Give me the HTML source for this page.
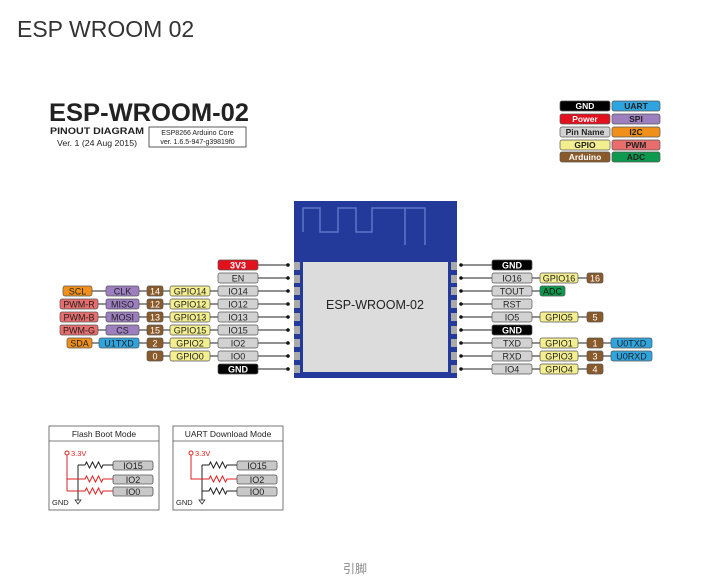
<!DOCTYPE html>
<html><head><meta charset="utf-8"><style>
html,body{margin:0;padding:0;background:#fff;width:714px;height:578px;overflow:hidden}
svg{position:absolute;left:0;top:0}
text{font-family:"Liberation Sans",sans-serif}
</style></head><body>
<svg width="714" height="578" viewBox="0 0 714 578" xmlns="http://www.w3.org/2000/svg">
<text x="17" y="37" font-size="23" fill="#333">ESP WROOM 02</text>
<text x="49" y="121" font-size="25" font-weight="bold" fill="#222" textLength="200" lengthAdjust="spacingAndGlyphs">ESP-WROOM-02</text>
<text x="50" y="134" font-size="9" font-weight="bold" fill="#222" textLength="94" lengthAdjust="spacingAndGlyphs">PINOUT DIAGRAM</text>
<text x="57" y="146" font-size="8" fill="#222" textLength="80" lengthAdjust="spacingAndGlyphs">Ver. 1 (24 Aug 2015)</text>
<rect x="149" y="127" width="97" height="20" fill="#fff" stroke="#333" stroke-width="0.8"/>
<text x="197.5" y="135" font-size="7" text-anchor="middle" fill="#222">ESP8266 Arduino Core</text>
<text x="197.5" y="144" font-size="7" text-anchor="middle" fill="#222">ver. 1.6.5-947-g39819f0</text>
<g font-size="8.5" font-weight="bold" text-anchor="middle" stroke-width="0.7">
<rect x="560" y="101" width="50" height="10" rx="2" fill="#000" stroke="#555"/><text x="585" y="109" fill="#fff">GND</text>
<rect x="612" y="101" width="48" height="10" rx="2" fill="#2fa5df" stroke="#555"/><text x="636" y="109" fill="#222">UART</text>
<rect x="560" y="114" width="50" height="10" rx="2" fill="#e3101e" stroke="#555"/><text x="585" y="122" fill="#fff">Power</text>
<rect x="612" y="114" width="48" height="10" rx="2" fill="#9d7fc0" stroke="#555"/><text x="636" y="122" fill="#222">SPI</text>
<rect x="560" y="127" width="50" height="10" rx="2" fill="#d2d2d2" stroke="#555"/><text x="585" y="135" fill="#222">Pin Name</text>
<rect x="612" y="127" width="48" height="10" rx="2" fill="#f0901a" stroke="#555"/><text x="636" y="135" fill="#222">I2C</text>
<rect x="560" y="140" width="50" height="10" rx="2" fill="#f3ee8f" stroke="#555"/><text x="585" y="148" fill="#222">GPIO</text>
<rect x="612" y="140" width="48" height="10" rx="2" fill="#e86d6d" stroke="#555"/><text x="636" y="148" fill="#222">PWM</text>
<rect x="560" y="152" width="50" height="10" rx="2" fill="#8b5a2b" stroke="#555"/><text x="585" y="160" fill="#fff">Arduino</text>
<rect x="612" y="152" width="48" height="10" rx="2" fill="#0e9a4e" stroke="#555"/><text x="636" y="160" fill="#222">ADC</text>
</g>
<!-- chip -->
<rect x="294" y="201" width="163" height="177" fill="#233a9a"/>
<path d="M303 232 V208 H320 V232 H338 V208 H356 V232 H372 V208 H425 V245 M405 208 V245" fill="none" stroke="#5a76c8" stroke-width="1.5"/>
<rect x="303" y="262" width="145" height="110" fill="#dcdcdc"/>
<text x="375" y="309" font-size="12.5" text-anchor="middle" fill="#222">ESP-WROOM-02</text>
<g fill="#aaa">
<rect x="294" y="262" width="6" height="8"/><rect x="294" y="275" width="6" height="8"/><rect x="294" y="287" width="6" height="8"/><rect x="294" y="300" width="6" height="8"/><rect x="294" y="313" width="6" height="8"/><rect x="294" y="326" width="6" height="8"/><rect x="294" y="339" width="6" height="8"/><rect x="294" y="352" width="6" height="8"/><rect x="294" y="365" width="6" height="8"/>
<rect x="451" y="262" width="6" height="8"/><rect x="451" y="275" width="6" height="8"/><rect x="451" y="287" width="6" height="8"/><rect x="451" y="300" width="6" height="8"/><rect x="451" y="313" width="6" height="8"/><rect x="451" y="326" width="6" height="8"/><rect x="451" y="339" width="6" height="8"/><rect x="451" y="352" width="6" height="8"/><rect x="451" y="365" width="6" height="8"/>
</g>
<!-- lines -->
<g stroke="#222" stroke-width="1">
<line x1="218" y1="265" x2="288" y2="265"/><line x1="218" y1="278" x2="288" y2="278"/>
<line x1="63" y1="291" x2="288" y2="291"/><line x1="60" y1="304" x2="288" y2="304"/>
<line x1="60" y1="317" x2="288" y2="317"/><line x1="60" y1="330" x2="288" y2="330"/>
<line x1="67" y1="343" x2="288" y2="343"/><line x1="147" y1="356" x2="288" y2="356"/>
<line x1="218" y1="369" x2="288" y2="369"/>
<line x1="461" y1="265" x2="532" y2="265"/><line x1="461" y1="278" x2="603" y2="278"/>
<line x1="461" y1="291" x2="565" y2="291"/><line x1="461" y1="304" x2="532" y2="304"/>
<line x1="461" y1="317" x2="603" y2="317"/><line x1="461" y1="330" x2="532" y2="330"/>
<line x1="461" y1="343" x2="652" y2="343"/><line x1="461" y1="356" x2="652" y2="356"/>
<line x1="461" y1="369" x2="603" y2="369"/>
</g>
<g fill="#111">
<circle cx="288" cy="265" r="1.8"/><circle cx="288" cy="278" r="1.8"/><circle cx="288" cy="291" r="1.8"/><circle cx="288" cy="304" r="1.8"/><circle cx="288" cy="317" r="1.8"/><circle cx="288" cy="330" r="1.8"/><circle cx="288" cy="343" r="1.8"/><circle cx="288" cy="356" r="1.8"/><circle cx="288" cy="369" r="1.8"/>
<circle cx="461" cy="265" r="1.8"/><circle cx="461" cy="278" r="1.8"/><circle cx="461" cy="291" r="1.8"/><circle cx="461" cy="304" r="1.8"/><circle cx="461" cy="317" r="1.8"/><circle cx="461" cy="330" r="1.8"/><circle cx="461" cy="343" r="1.8"/><circle cx="461" cy="356" r="1.8"/><circle cx="461" cy="369" r="1.8"/>
</g>
<g font-size="9" text-anchor="middle" stroke-width="0.7">
<rect x="218" y="260" width="40" height="10" rx="2" fill="#e3101e" stroke="#555"/><text x="238" y="268.5" fill="#fff" font-weight="bold">3V3</text>
<rect x="218" y="273" width="40" height="10" rx="2" fill="#d2d2d2" stroke="#555"/><text x="238" y="281.5" fill="#222">EN</text>
<rect x="218" y="286" width="40" height="10" rx="2" fill="#d2d2d2" stroke="#555"/><text x="238" y="294.5" fill="#222">IO14</text>
<rect x="218" y="299" width="40" height="10" rx="2" fill="#d2d2d2" stroke="#555"/><text x="238" y="307.5" fill="#222">IO12</text>
<rect x="218" y="312" width="40" height="10" rx="2" fill="#d2d2d2" stroke="#555"/><text x="238" y="320.5" fill="#222">IO13</text>
<rect x="218" y="325" width="40" height="10" rx="2" fill="#d2d2d2" stroke="#555"/><text x="238" y="333.5" fill="#222">IO15</text>
<rect x="218" y="338" width="40" height="10" rx="2" fill="#d2d2d2" stroke="#555"/><text x="238" y="346.5" fill="#222">IO2</text>
<rect x="218" y="351" width="40" height="10" rx="2" fill="#d2d2d2" stroke="#555"/><text x="238" y="359.5" fill="#222">IO0</text>
<rect x="218" y="364" width="40" height="10" rx="2" fill="#000" stroke="#555"/><text x="238" y="372.5" fill="#fff" font-weight="bold">GND</text>
<rect x="170" y="286" width="40" height="10" rx="2" fill="#f3ee8f" stroke="#555"/><text x="190" y="294.5" fill="#222">GPIO14</text>
<rect x="170" y="299" width="40" height="10" rx="2" fill="#f3ee8f" stroke="#555"/><text x="190" y="307.5" fill="#222">GPIO12</text>
<rect x="170" y="312" width="40" height="10" rx="2" fill="#f3ee8f" stroke="#555"/><text x="190" y="320.5" fill="#222">GPIO13</text>
<rect x="170" y="325" width="40" height="10" rx="2" fill="#f3ee8f" stroke="#555"/><text x="190" y="333.5" fill="#222">GPIO15</text>
<rect x="170" y="338" width="40" height="10" rx="2" fill="#f3ee8f" stroke="#555"/><text x="190" y="346.5" fill="#222">GPIO2</text>
<rect x="170" y="351" width="40" height="10" rx="2" fill="#f3ee8f" stroke="#555"/><text x="190" y="359.5" fill="#222">GPIO0</text>
<rect x="147" y="286" width="16" height="10" rx="2" fill="#8b5a2b" stroke="#555"/><text x="155" y="294.5" fill="#fff">14</text>
<rect x="147" y="299" width="16" height="10" rx="2" fill="#8b5a2b" stroke="#555"/><text x="155" y="307.5" fill="#fff">12</text>
<rect x="147" y="312" width="16" height="10" rx="2" fill="#8b5a2b" stroke="#555"/><text x="155" y="320.5" fill="#fff">13</text>
<rect x="147" y="325" width="16" height="10" rx="2" fill="#8b5a2b" stroke="#555"/><text x="155" y="333.5" fill="#fff">15</text>
<rect x="147" y="338" width="16" height="10" rx="2" fill="#8b5a2b" stroke="#555"/><text x="155" y="346.5" fill="#fff">2</text>
<rect x="147" y="351" width="16" height="10" rx="2" fill="#8b5a2b" stroke="#555"/><text x="155" y="359.5" fill="#fff">0</text>
<rect x="106" y="286" width="33" height="10" rx="2" fill="#9d7fc0" stroke="#555"/><text x="122.5" y="294.5" fill="#222">CLK</text>
<rect x="106" y="299" width="33" height="10" rx="2" fill="#9d7fc0" stroke="#555"/><text x="122.5" y="307.5" fill="#222">MISO</text>
<rect x="106" y="312" width="33" height="10" rx="2" fill="#9d7fc0" stroke="#555"/><text x="122.5" y="320.5" fill="#222">MOSI</text>
<rect x="106" y="325" width="33" height="10" rx="2" fill="#9d7fc0" stroke="#555"/><text x="122.5" y="333.5" fill="#222">CS</text>
<rect x="99" y="338" width="40" height="10" rx="2" fill="#2fa5df" stroke="#555"/><text x="119" y="346.5" fill="#222">U1TXD</text>
<rect x="63" y="286" width="29" height="10" rx="2" fill="#f0901a" stroke="#555"/><text x="77.5" y="294.5" fill="#222">SCL</text>
<rect x="60" y="299" width="38" height="10" rx="2" fill="#e86d6d" stroke="#555"/><text x="79" y="307.5" fill="#222">PWM-R</text>
<rect x="60" y="312" width="38" height="10" rx="2" fill="#e86d6d" stroke="#555"/><text x="79" y="320.5" fill="#222">PWM-B</text>
<rect x="60" y="325" width="38" height="10" rx="2" fill="#e86d6d" stroke="#555"/><text x="79" y="333.5" fill="#222">PWM-G</text>
<rect x="67" y="338" width="25" height="10" rx="2" fill="#f0901a" stroke="#555"/><text x="79.5" y="346.5" fill="#222">SDA</text>
<rect x="492" y="260" width="40" height="10" rx="2" fill="#000" stroke="#555"/><text x="512" y="268.5" fill="#fff" font-weight="bold">GND</text>
<rect x="492" y="273" width="40" height="10" rx="2" fill="#d2d2d2" stroke="#555"/><text x="512" y="281.5" fill="#222">IO16</text>
<rect x="492" y="286" width="40" height="10" rx="2" fill="#d2d2d2" stroke="#555"/><text x="512" y="294.5" fill="#222">TOUT</text>
<rect x="492" y="299" width="40" height="10" rx="2" fill="#d2d2d2" stroke="#555"/><text x="512" y="307.5" fill="#222">RST</text>
<rect x="492" y="312" width="40" height="10" rx="2" fill="#d2d2d2" stroke="#555"/><text x="512" y="320.5" fill="#222">IO5</text>
<rect x="492" y="325" width="40" height="10" rx="2" fill="#000" stroke="#555"/><text x="512" y="333.5" fill="#fff" font-weight="bold">GND</text>
<rect x="492" y="338" width="40" height="10" rx="2" fill="#d2d2d2" stroke="#555"/><text x="512" y="346.5" fill="#222">TXD</text>
<rect x="492" y="351" width="40" height="10" rx="2" fill="#d2d2d2" stroke="#555"/><text x="512" y="359.5" fill="#222">RXD</text>
<rect x="492" y="364" width="40" height="10" rx="2" fill="#d2d2d2" stroke="#555"/><text x="512" y="372.5" fill="#222">IO4</text>
<rect x="540" y="273" width="38" height="10" rx="2" fill="#f3ee8f" stroke="#555"/><text x="559" y="281.5" fill="#222">GPIO16</text>
<rect x="540" y="286" width="25" height="10" rx="2" fill="#0e9a4e" stroke="#555"/><text x="552.5" y="294.5" fill="#111">ADC</text>
<rect x="540" y="312" width="38" height="10" rx="2" fill="#f3ee8f" stroke="#555"/><text x="559" y="320.5" fill="#222">GPIO5</text>
<rect x="540" y="338" width="38" height="10" rx="2" fill="#f3ee8f" stroke="#555"/><text x="559" y="346.5" fill="#222">GPIO1</text>
<rect x="540" y="351" width="38" height="10" rx="2" fill="#f3ee8f" stroke="#555"/><text x="559" y="359.5" fill="#222">GPIO3</text>
<rect x="540" y="364" width="38" height="10" rx="2" fill="#f3ee8f" stroke="#555"/><text x="559" y="372.5" fill="#222">GPIO4</text>
<rect x="587" y="273" width="16" height="10" rx="2" fill="#8b5a2b" stroke="#555"/><text x="595" y="281.5" fill="#fff">16</text>
<rect x="587" y="312" width="16" height="10" rx="2" fill="#8b5a2b" stroke="#555"/><text x="595" y="320.5" fill="#fff">5</text>
<rect x="587" y="338" width="16" height="10" rx="2" fill="#8b5a2b" stroke="#555"/><text x="595" y="346.5" fill="#fff">1</text>
<rect x="587" y="351" width="16" height="10" rx="2" fill="#8b5a2b" stroke="#555"/><text x="595" y="359.5" fill="#fff">3</text>
<rect x="587" y="364" width="16" height="10" rx="2" fill="#8b5a2b" stroke="#555"/><text x="595" y="372.5" fill="#fff">4</text>
<rect x="611" y="338" width="41" height="10" rx="2" fill="#2fa5df" stroke="#555"/><text x="631.5" y="346.5" fill="#222">U0TXD</text>
<rect x="611" y="351" width="41" height="10" rx="2" fill="#2fa5df" stroke="#555"/><text x="631.5" y="359.5" fill="#222">U0RXD</text>
</g>
<g id="bm">
<rect x="49" y="426" width="110" height="84" fill="#fff" stroke="#555" stroke-width="0.8"/>
<line x1="49" y1="441" x2="159" y2="441" stroke="#555" stroke-width="0.8"/>
<circle cx="67" cy="453" r="2" fill="none" stroke="#d22" stroke-width="1"/>
<text x="71" y="456" font-size="7.5" fill="#d22">3.3V</text>
<line x1="78" y1="465" x2="78" y2="500" stroke="#222"/>
<path d="M75 500 h6 l-3 4z" fill="none" stroke="#222" stroke-width="0.7"/>
<text x="52" y="505" font-size="7.5" fill="#222">GND</text>
<g fill="#c8c8c8" stroke="#555" stroke-width="0.8">
<rect x="113" y="461" width="40" height="9" rx="2"/><rect x="113" y="475" width="40" height="9" rx="2"/><rect x="113" y="487" width="40" height="9" rx="2"/>
</g>
<g font-size="9" text-anchor="middle" fill="#222"><text x="133" y="469">IO15</text><text x="133" y="483">IO2</text><text x="133" y="495">IO0</text></g>
</g>
<g fill="none" stroke-width="1">
<path d="M78 465 H85 l1.5 -3 l3 6 l3 -6 l3 6 l3 -6 l3 6 l1.5 -3 H113" stroke="#222"/>
<path d="M67 455 V491 M67 479 H85 l1.5 -3 l3 6 l3 -6 l3 6 l3 -6 l3 6 l1.5 -3 H113 M67 491 H85 l1.5 -3 l3 6 l3 -6 l3 6 l3 -6 l3 6 l1.5 -3 H113" stroke="#d22"/>
</g>
<use href="#bm" x="124"/>
<rect x="174" y="427" width="108" height="13" fill="#fff"/>
<text x="104" y="437" font-size="8.5" text-anchor="middle" fill="#222">Flash Boot Mode</text>
<text x="228" y="437" font-size="8.5" text-anchor="middle" fill="#222">UART Download Mode</text>
<g fill="none" stroke-width="1">
<path d="M202 465 H209 l1.5 -3 l3 6 l3 -6 l3 6 l3 -6 l3 6 l1.5 -3 H237 M202 491 H209 l1.5 -3 l3 6 l3 -6 l3 6 l3 -6 l3 6 l1.5 -3 H237" stroke="#222"/>
<path d="M191 455 V479 H209 l1.5 -3 l3 6 l3 -6 l3 6 l3 -6 l3 6 l1.5 -3 H237" stroke="#d22"/>
</g>
<text x="355" y="573" font-size="12" text-anchor="middle" fill="#888" font-family="'Liberation Sans','Noto Sans CJK SC',sans-serif">引脚</text>
</svg>
</body></html>
